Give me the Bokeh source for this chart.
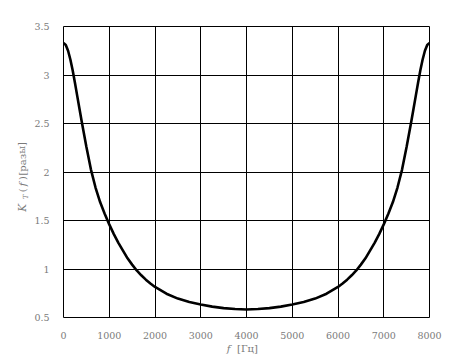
from bokeh.plotting import figure
from bokeh.models import Range1d, FixedTicker
from bokeh.layouts import row, column
from bokeh.core.properties import value
from bokeh.embed import file_html
from bokeh.resources import INLINE

# Data
freq = [0, 50, 100, 150, 200, 250, 300, 350, 400, 500, 600, 700, 800, 900,
        1000, 1100, 1200, 1300, 1400, 1500, 1600, 1700, 1800, 1900, 2000,
        2250, 2500, 2750, 3000, 3250, 3500, 3750, 4000,
        4250, 4500, 4750, 5000, 5250, 5500, 5750, 6000, 6100, 6200, 6300,
        6400, 6500, 6600, 6700, 6800, 6900, 7000, 7100, 7200, 7300, 7400,
        7500, 7600, 7650, 7700, 7750, 7800, 7850, 7900, 7950, 8000]
gain = [3.33, 3.31, 3.25, 3.16, 3.05, 2.92, 2.785, 2.65, 2.515, 2.26, 2.025, 1.84, 1.69, 1.57,
        1.46, 1.36, 1.27, 1.19, 1.11, 1.045, 0.985, 0.935, 0.89, 0.85, 0.815,
        0.745, 0.695, 0.66, 0.635, 0.612, 0.597, 0.587, 0.583,
        0.587, 0.597, 0.612, 0.635, 0.66, 0.695, 0.745, 0.815, 0.85, 0.89, 0.935,
        0.985, 1.045, 1.11, 1.19, 1.27, 1.36, 1.46, 1.57, 1.69, 1.84, 2.025,
        2.26, 2.515, 2.65, 2.785, 2.92, 3.05, 3.16, 3.25, 3.31, 3.33]

x_ticks = [0, 1000, 2000, 3000, 4000, 5000, 6000, 7000, 8000]
x_tick_labels = ["0", "1000", "2000", "3000", "4000", "5000", "6000", "7000", "8000"]
y_ticks = [0.5, 1.0, 1.5, 2.0, 2.5, 3.0, 3.5]
y_tick_labels = ["0.5", "1", "1.5", "2", "2.5", "3", "3.5"]

FONT = "DejaVu Serif"
GREY = "#7a7a7a"

LEFT_W = 31

# ---- main plot ----
p = figure(width=470 - LEFT_W, height=341, output_backend="svg", toolbar_location=None,
           x_range=Range1d(0, 8000), y_range=Range1d(0.5, 3.5),
           min_border_left=62 - LEFT_W, min_border_right=41, min_border_top=26, min_border_bottom=24)

p.line(freq, gain, line_color="black", line_width=2.6)

p.outline_line_color = "black"
p.outline_line_width = 1
for ax in (p.xaxis, p.yaxis):
    ax.axis_line_color = None
    ax.major_tick_line_color = None
    ax.minor_tick_line_color = None
    ax.major_label_text_font = FONT
    ax.major_label_text_font_size = "9.5px"
    ax.major_label_text_color = GREY
    ax.major_label_standoff = 8

p.xaxis.ticker = FixedTicker(ticks=x_ticks)
p.yaxis.ticker = FixedTicker(ticks=y_ticks)
p.xaxis.major_label_overrides = dict(zip(x_ticks, x_tick_labels))
p.yaxis.major_label_overrides = dict(zip(y_ticks, y_tick_labels))

p.xgrid.ticker = FixedTicker(ticks=x_ticks)
p.ygrid.ticker = FixedTicker(ticks=y_ticks)
p.grid.grid_line_color = "black"
p.grid.grid_line_width = 1
p.grid.grid_line_alpha = 1.0


def text_panel(w, h, y0, y1):
    f = figure(width=w, height=h, output_backend="svg", toolbar_location=None,
               x_range=Range1d(0, w), y_range=Range1d(y1, y0),
               x_axis_type=None, y_axis_type=None, min_border=0)
    f.grid.visible = False
    f.outline_line_color = None
    return f


# ---- y axis label panel: K_T ( f ) [разы] ----
lp = text_panel(LEFT_W, 341, 0, 341)
ylab = [("K", 21.5, 212.5, "italic", "10.5px"),
        ("T", 25.5, 199.5, "italic", "7px"),
        ("(", 21.5, 192, "normal", "10px"),
        ("f", 21.5, 185, "italic", "10px"),
        (")", 21.5, 177.5, "normal", "10px"),
        ("[разы]", 21.5, 155, "normal", "10px")]
for txt, xx, yy, style, size in ylab:
    lp.text(x=[xx], y=[yy], text=[txt], angle=1.5708, text_align="center",
            text_baseline="middle", text_font=value(FONT), text_font_style=style,
            text_font_size=size, text_color=GREY)

# ---- x axis label panel: f [Гц] ----
bp = text_panel(470, 13, 341, 354)
bp.text(x=[228], y=[348], text=["f"], text_align="center", text_baseline="middle",
        text_font=value(FONT), text_font_style="italic", text_font_size="10px", text_color=GREY)
bp.text(x=[247], y=[348], text=["[Гц]"], text_align="center", text_baseline="middle",
        text_font=value(FONT), text_font_size="10px", text_color=GREY)

layout = column(row(lp, p), bp)

html = file_html(layout, INLINE)
html = html.replace("<head>", "<head><style>html,body{overflow:hidden;}</style>", 1)
open("out.html", "w").write(html)
